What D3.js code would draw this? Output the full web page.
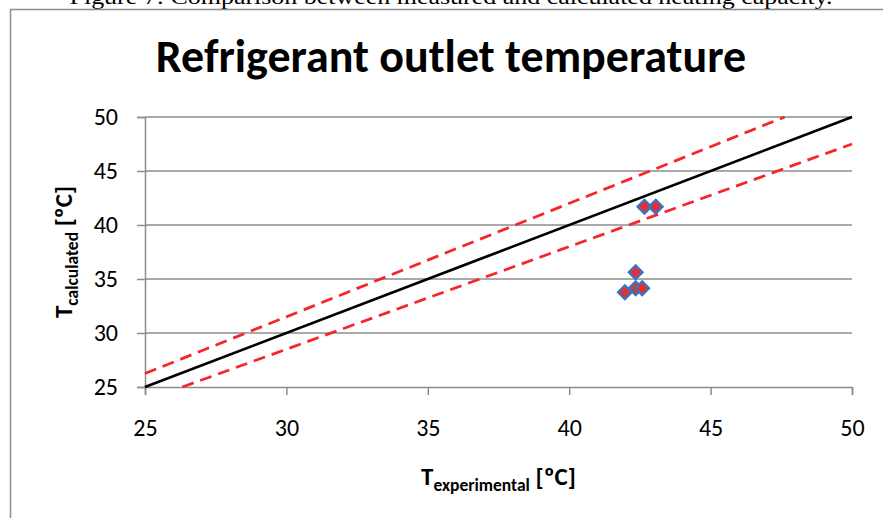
<!DOCTYPE html>
<html>
<head>
<meta charset="utf-8">
<script src="https://cdn.jsdelivr.net/npm/d3@7"></script>
<style>
  body { margin: 0; background: #fff; }
  svg { display: block; }
</style>
</head>
<body>
<svg class="viz" width="883" height="518"></svg>
<script>
// data
var expT  = [42.66, 43.06, 42.35, 41.97, 42.35, 42.58];   // T experimental
var calcT = [41.69, 41.69, 35.62, 33.77, 34.14, 34.14];   // T calculated

// reference line y = x and the two dashed bands (end points)
var idealX = [25, 50],    idealY = [25, 50];
var upperX = [25, 47.62], upperY = [26.25, 50];
var lowerX = [26.32, 50], lowerY = [25, 47.5];

var xTicks = [25, 30, 35, 40, 45, 50];
var yTicks = [25, 30, 35, 40, 45, 50];

var font = "Carlito, Lato, 'Open Sans', sans-serif";

var svg = d3.select(".viz"),
    margin = {top: 117, right: 31, bottom: 131, left: 145},
    width = +svg.attr("width") - margin.left - margin.right,
    height = +svg.attr("height") - margin.top - margin.bottom;

// caption of the page, cut at the top
svg.append("text")
    .attr("x", 451)
    .attr("y", 4)
    .attr("text-anchor", "middle")
    .attr("font-family", "'Liberation Serif', 'Times New Roman', serif")
    .attr("font-size", "22px")
    .attr("textLength", 763)
    .attr("lengthAdjust", "spacingAndGlyphs")
    .text("Figure 7: Comparison between measured and calculated heating capacity.");

// chart area border
svg.append("rect")
    .attr("x", 10.5)
    .attr("y", 9.5)
    .attr("width", 900)
    .attr("height", 600)
    .attr("fill", "none")
    .attr("stroke", "#8c8c8c")
    .attr("stroke-width", 1.5);

svg.append("text")
    .attr("x", 451)
    .attr("y", 72)
    .attr("text-anchor", "middle")
    .attr("font-family", font)
    .attr("font-weight", "bold")
    .attr("font-size", "46px")
    .text("Refrigerant outlet temperature");

var x = d3.scaleLinear().domain([25, 50]).range([0, width]);
var y = d3.scaleLinear().domain([25, 50]).range([height, 0]);

var g = svg.append("g")
    .attr("transform", "translate(" + margin.left + "," + margin.top + ")");

// horizontal gridlines
g.append("g")
    .selectAll("line")
    .data(yTicks.slice(1))
    .enter().append("line")
    .attr("x1", 0)
    .attr("x2", width)
    .attr("y1", function(d) { return y(d); })
    .attr("y2", function(d) { return y(d); })
    .style("stroke", "#8c8c8c")
    .style("stroke-width", "1.5px");

var yAxis = g.append("g")
    .call(d3.axisLeft(y).tickValues(yTicks).tickSize(8).tickPadding(19));

var xAxis = g.append("g")
    .attr("transform", "translate(0," + height + ")")
    .call(d3.axisBottom(x).tickValues(xTicks).tickSize(8).tickPadding(41));

[xAxis, yAxis].forEach(function(a) {
  a.select(".domain").style("stroke", "#8c8c8c").style("stroke-width", "1.5px");
  a.selectAll(".tick line").style("stroke", "#8c8c8c").style("stroke-width", "1.5px");
  a.selectAll(".tick text")
    .attr("font-family", font)
    .attr("font-size", "24px")
    .attr("fill", "#000");
});
xAxis.selectAll(".tick text").attr("dy", "0");

var line = d3.line()
    .x(function(d) { return x(d[0]); })
    .y(function(d) { return y(d[1]); });

g.append("path")
    .attr("d", line(d3.zip(upperX, upperY)))
    .style("stroke", "#f7252b")
    .style("stroke-width", "2.75px")
    .style("stroke-dasharray", "12,7")
    .style("fill", "none");

g.append("path")
    .attr("d", line(d3.zip(lowerX, lowerY)))
    .style("stroke", "#f7252b")
    .style("stroke-width", "2.75px")
    .style("stroke-dasharray", "12,7")
    .style("fill", "none");

g.append("path")
    .attr("d", line(d3.zip(idealX, idealY)))
    .style("stroke", "#000")
    .style("stroke-width", "2.75px")
    .style("fill", "none");

// diamond markers
g.append("g")
    .selectAll("path")
    .data(d3.zip(expT, calcT))
    .enter().append("path")
    .attr("d", d3.symbol().type(d3.symbolSquare).size(90))
    .attr("transform", function(d) {
      return "translate(" + x(d[0]) + "," + y(d[1]) + ") rotate(45)";
    })
    .style("fill", "#ee2a2e")
    .style("stroke", "#4072b4")
    .style("stroke-width", "2.5px");

// axis titles
var xt = svg.append("text")
    .attr("x", margin.left + width / 2)
    .attr("y", 485)
    .attr("text-anchor", "middle")
    .attr("font-family", font)
    .attr("font-weight", "bold")
    .attr("font-size", "25px");
xt.append("tspan").text("T");
xt.append("tspan").attr("font-size", "17.5px").attr("dy", 6).text("experimental");
xt.append("tspan").attr("dy", -6).text(" [ºC]");

var yt = svg.append("text")
    .attr("transform", "translate(72," + (margin.top + height / 2) + ") rotate(-90)")
    .attr("text-anchor", "middle")
    .attr("font-family", font)
    .attr("font-weight", "bold")
    .attr("font-size", "25px");
yt.append("tspan").text("T");
yt.append("tspan").attr("font-size", "17.5px").attr("dy", 6).text("calculated");
yt.append("tspan").attr("dy", -6).text(" [ºC]");
</script>
</body>
</html>
